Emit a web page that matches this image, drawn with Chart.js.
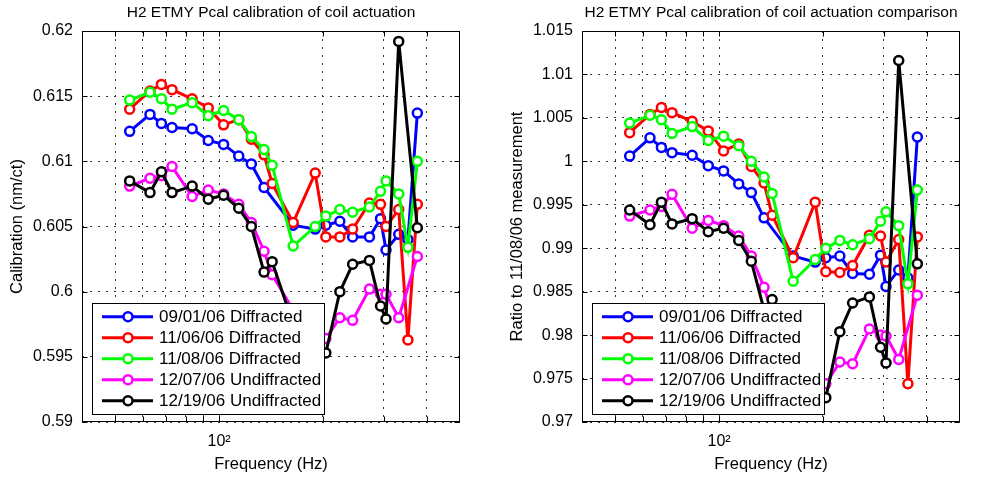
<!DOCTYPE html>
<html><head><meta charset="utf-8">
<script src="https://cdn.jsdelivr.net/npm/chart.js@4.4.1/dist/chart.umd.min.js"></script>
<style>
html,body{margin:0;padding:0;background:#fff;}
#wrap{position:relative;width:982px;height:479px;overflow:hidden;background:#fff;}
.cell{position:absolute;top:0;width:491px;height:479px;}
</style></head><body>
<div id="wrap">
<div class="cell" style="left:0"><canvas id="c1" width="491" height="479"></canvas></div>
<div class="cell" style="left:491px"><canvas id="c2" width="491" height="479"></canvas></div>
</div>
<script>
const FONT = '"Liberation Sans", Arial, Helvetica, sans-serif';

// ---- data (frequency in Hz) ----
const frequencies = [55, 63, 68, 73, 83.5, 93, 103, 114, 124, 135, 142.5, 164, 190, 204, 224, 244, 273, 294, 305, 332, 353, 376];
const seriesLabels = ['09/01/06 Diffracted', '11/06/06 Diffracted', '11/08/06 Diffracted', '12/07/06 Undiffracted', '12/19/06 Undiffracted'];
const seriesColors = ['#0000ff', '#ff0000', '#00ff00', '#ff00ff', '#000000'];

// calibration (nm/ct)
const cal_090106 = [0.6123, 0.6136, 0.6129, 0.6126, 0.6125, 0.6116, 0.6113, 0.6104, 0.6098, 0.6080, null, 0.6051, 0.6048, 0.6051, 0.6054, 0.6042, 0.6042, 0.6056, 0.6032, 0.6044, 0.6040, 0.6137];
const cal_110606 = [0.6140, 0.6154, 0.6159, 0.6155, 0.6148, 0.6141, 0.6128, 0.6132, 0.6117, 0.6105, 0.6083, 0.6053, 0.6091, 0.6042, 0.6042, 0.6048, 0.6068, 0.6067, 0.6050, 0.6063, 0.5963, 0.6067];
const cal_110806 = [0.6147, 0.6153, 0.6148, 0.6140, 0.6145, 0.6135, 0.6139, 0.6132, 0.6119, 0.6109, 0.6097, 0.6035, 0.6050, 0.6058, 0.6063, 0.6061, 0.6065, 0.6077, 0.6085, 0.6075, 0.6034, 0.6100];
const cal_120706 = [0.6081, 0.6087, 0.6089, 0.6096, 0.6073, 0.6078, 0.6075, 0.6067, 0.6053, 0.6031, 0.6013, 0.5986, 0.5970, 0.5964, 0.5980, 0.5978, 0.6002, 0.5998, 0.5998, 0.5980, null, 0.6027];
const cal_121906 = [0.6085, 0.6076, 0.6092, 0.6076, 0.6081, 0.6071, 0.6074, 0.6064, 0.6050, 0.6015, 0.6023, 0.5975, 0.5958, 0.5953, 0.6000, 0.6021, 0.6024, 0.5989, 0.5979, 0.6192, null, 0.6049];

// ratio to 11/08/06 measurement
const ratio_090106 = [1.0006, 1.0027, 1.0016, 1.0010, 1.0007, 0.9995, 0.9989, 0.9974, 0.9964, 0.9935, null, 0.9891, 0.9884, 0.9889, 0.9891, 0.9871, 0.9870, 0.9892, 0.9856, 0.9875, 0.9866, 1.0028];
const ratio_110606 = [1.0033, 1.0054, 1.0062, 1.0056, 1.0046, 1.0035, 1.0012, 1.0020, 0.9994, 0.9975, 0.9938, 0.9889, 0.9953, 0.9873, 0.9872, 0.9880, 0.9915, 0.9914, 0.9884, 0.9910, 0.9744, 0.9913];
const ratio_110806 = [1.0044, 1.0053, 1.0048, 1.0032, 1.0040, 1.0024, 1.0029, 1.0018, 1.0000, 0.9982, 0.9963, 0.9862, 0.9887, 0.9900, 0.9909, 0.9904, 0.9911, 0.9931, 0.9942, 0.9926, 0.9859, 0.9967];
const ratio_120706 = [0.9937, 0.9944, 0.9948, 0.9962, 0.9923, 0.9932, 0.9926, 0.9914, 0.9891, 0.9855, 0.9825, 0.9780, 0.9756, 0.9744, 0.9769, 0.9767, 0.9807, 0.9800, 0.9799, 0.9772, null, 0.9846];
const ratio_121906 = [0.9944, 0.9927, 0.9953, 0.9928, 0.9934, 0.9919, 0.9923, 0.9909, 0.9885, 0.9829, 0.9841, 0.9763, 0.9735, 0.9728, 0.9804, 0.9837, 0.9844, 0.9786, 0.9768, 1.0116, null, 0.9882];

// ticks
const xTickValues = [50, 60, 70, 80, 90, 100, 200, 300, 400];
const xTickLabels = {100: '10\u00B2'};

const frame = {
  id: 'frame',
  afterDatasetsDraw(chart, args, opts) {
    const {ctx, chartArea: a, scales: {x, y}} = chart;
    ctx.save();
    ctx.strokeStyle = '#000'; ctx.lineWidth = 1; ctx.setLineDash([]);
    const L = Math.round(a.left) + 0.5, R = Math.round(a.right) - 0.5, T = Math.round(a.top) + 0.5, B = Math.round(a.bottom) - 0.5;
    ctx.strokeRect(L, T, R - L, B - T);
    const tl = 5;
    ctx.beginPath();
    xTickValues.forEach(v => {
      const px = Math.round(x.getPixelForValue(v)) + 0.5;
      ctx.moveTo(px, B); ctx.lineTo(px, B - tl);
      ctx.moveTo(px, T); ctx.lineTo(px, T + tl);
    });
    y.ticks.forEach(t => {
      const py = Math.round(y.getPixelForValue(t.value)) + 0.5;
      ctx.moveTo(L, py); ctx.lineTo(L + tl, py);
      ctx.moveTo(R, py); ctx.lineTo(R - tl, py);
    });
    ctx.stroke();
    // legend
    const ds = chart.data.datasets;
    ctx.font = '17px ' + FONT;
    const tw = Math.max(...ds.map(d => ctx.measureText(d.label).width));
    const lx = Math.round(a.left) + 10, boxH = 111, boxW = Math.round(67 + tw + 3);
    const top = Math.round(a.bottom) - 8 - boxH;
    ctx.fillStyle = '#fff';
    ctx.fillRect(lx, top, boxW, boxH);
    ctx.strokeStyle = '#000'; ctx.lineWidth = 1;
    ctx.strokeRect(lx + 0.5, top + 0.5, boxW, boxH);
    ds.forEach((d, i) => {
      const cy = top + 13.7 + i * 21;
      ctx.strokeStyle = d.borderColor; ctx.lineWidth = 3;
      ctx.beginPath(); ctx.moveTo(lx + 10, cy); ctx.lineTo(lx + 61, cy); ctx.stroke();
      ctx.lineWidth = 2.5; ctx.fillStyle = '#fff';
      ctx.beginPath(); ctx.arc(lx + 36, cy, 4.5, 0, Math.PI * 2); ctx.fill(); ctx.stroke();
      ctx.fillStyle = '#000'; ctx.textAlign = 'left'; ctx.textBaseline = 'middle';
      ctx.fillText(d.label, lx + 67, cy + 1);
    });
    ctx.font = '15.5px ' + FONT; ctx.fillStyle = '#000'; ctx.textAlign = 'center'; ctx.textBaseline = 'middle';
    ctx.fillText(opts.title, (a.left + a.right) / 2, 13);
    ctx.restore();
  }
};

function makeDatasets(valueArrays) {
  return valueArrays.map((vals, i) => ({
    label: seriesLabels[i],
    data: frequencies.map((f, k) => ({x: f, y: vals[k]})),
    borderColor: seriesColors[i],
    backgroundColor: seriesColors[i],
    pointBackgroundColor: '#fff',
    pointBorderColor: seriesColors[i],
    pointBorderWidth: 2.5,
    pointRadius: 4.5,
    pointHoverRadius: 4.5,
    borderWidth: 3,
    tension: 0,
    spanGaps: true,
    order: valueArrays.length - i
  }));
}

function makeChart(id, valueArrays, opt) {
  const W = 491, H = 479;
  return new Chart(document.getElementById(id), {
    type: 'line',
    data: {datasets: makeDatasets(valueArrays)},
    options: {
      responsive: false, animation: false,
      layout: {padding: {left: 0, right: W - opt.right, top: opt.top, bottom: 0}},
      plugins: {legend: {display: false}, tooltip: {enabled: false}, frame: {title: opt.title}},
      scales: {
        x: {
          type: 'logarithmic', min: 40, max: 500,
          afterBuildTicks: s => { s.ticks = xTickValues.map(v => ({value: v})); },
          afterFit: s => { s.height = H - opt.bottom; },
          ticks: {autoSkip: false, maxRotation: 0, padding: 10, color: '#000', font: {family: FONT, size: 16},
                  callback: v => xTickLabels[v] || ''},
          grid: {color: '#333', lineWidth: 1, drawTicks: false},
          border: {display: false, dash: [2, 6]},
          title: {display: true, text: 'Frequency (Hz)', color: '#000', font: {family: FONT, size: 16.5}, padding: {top: 0, bottom: 5}}
        },
        y: {
          type: 'linear', min: opt.ymin, max: opt.ymax,
          afterFit: s => { s.width = opt.left; },
          ticks: {stepSize: 0.005, padding: 9, color: '#000', font: {family: FONT, size: 16},
                  callback: v => String(+v.toFixed(3))},
          grid: {color: '#333', lineWidth: 1, drawTicks: false},
          border: {display: false, dash: [2, 6]},
          title: {display: true, text: opt.ylabel, color: '#000', font: {family: FONT, size: 16.5}, padding: {top: opt.ytitlePad, bottom: 0}}
        }
      }
    },
    plugins: [frame]
  });
}

makeChart('c1', [cal_090106, cal_110606, cal_110806, cal_120706, cal_121906], {
  left: 82, right: 460, top: 31, bottom: 422, ymin: 0.59, ymax: 0.62,
  ylabel: 'Calibration (nm/ct)', ytitlePad: 8,
  title: 'H2 ETMY Pcal calibration of coil actuation'
});
makeChart('c2', [ratio_090106, ratio_110606, ratio_110806, ratio_120706, ratio_121906], {
  left: 91, right: 469, top: 31, bottom: 422, ymin: 0.97, ymax: 1.015,
  ylabel: 'Ratio to 11/08/06 measurement', ytitlePad: 17,
  title: 'H2 ETMY Pcal calibration of coil actuation comparison'
});
</script>
</body></html>
